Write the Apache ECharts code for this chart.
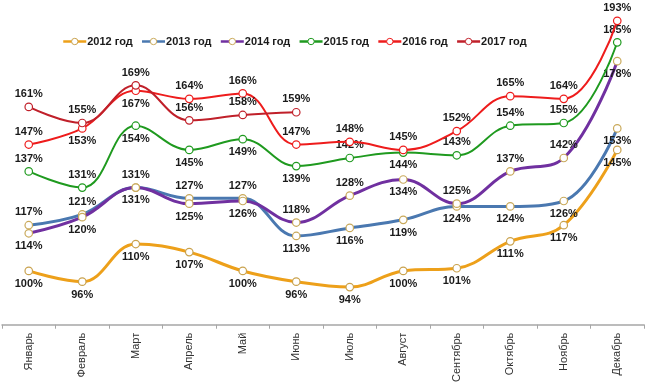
<!DOCTYPE html>
<html>
<head>
<meta charset="utf-8">
<script src="https://cdn.jsdelivr.net/npm/echarts@6/dist/echarts.min.js"></script>
<style>
html,body{margin:0;padding:0;background:#fff;}
#chart{width:656px;height:385px;}
</style>
</head>
<body>
<div id="chart"></div>
<script>
var months = ['Январь','Февраль','Март','Апрель','Май','Июнь','Июль','Август','Сентябрь','Октябрь','Ноябрь','Декабрь'];
var seriesNames = ['2012 год','2013 год','2014 год','2015 год','2016 год','2017 год'];
var v2012 = [100, 96, 110, 107, 100, 96, 94, 100, 101, 111, 117, 145];
var v2013 = [117, 121, 131, 127, 127, 113, 116, 119, 124, 124, 126, 153];
var v2014 = [114, 120, 131, 125, 126, 118, 128, 134, 125, 137, 142, 178];
var v2015 = [137, 131, 154, 145, 149, 139, 142, 144, 143, 154, 155, 185];
var v2016 = [147, 153, 167, 164, 166, 147, 148, 145, 152, 165, 164, 193];
var v2017 = [161, 155, 169, 156, 158, 159];

// label placement: indices whose label sits below the point
var below = [
  [0,1,2,3,4,5,6,7,8,9,10,11],
  [5,6,7,8,9,10,11],
  [0,1,2,3,4,7,11],
  [2,3,4,5,7],
  [1,2],
  []
];
var colors = ['#EDA01A','#4A78B0','#7030A0','#1F9A1F','#EE1C1C','#C0202A'];
var markerBorders = ['#C9A24E','#C9A95A','#C9A95A','#1F9A1F','#EE1C1C','#C0202A'];
var widths = [3,3,3,2,2,2];
var allValues = [v2012, v2013, v2014, v2015, v2016, v2017];

var series = allValues.map(function(vals, si){
  return {
    name: seriesNames[si],
    type: 'line',
    smooth: 0.4,
    symbol: 'circle',
    symbolSize: 7.5,
    z: 2 + si,
    lineStyle: {color: colors[si], width: widths[si]},
    itemStyle: {color: '#fff', borderColor: markerBorders[si], borderWidth: 1.2},
    label: {
      show: true,
      formatter: '{c}%',
      fontFamily: 'Arial, Liberation Sans, sans-serif',
      fontWeight: 'bold',
      fontSize: 11,
      color: '#1a1a1a',
      distance: 3
    },
    data: vals.map(function(v, i){
      return {value: v, label: {position: below[si].indexOf(i) >= 0 ? 'bottom' : 'top'}};
    })
  };
});

var chart = echarts.init(document.getElementById('chart'), null, {renderer:'canvas'});
chart.setOption({
  animation: false,
  color: colors,
  legend: {
    top: 31,
    left: 57,
    itemWidth: 23,
    itemHeight: 8,
    itemGap: 8,
    textStyle: {fontFamily: 'Arial, Liberation Sans, sans-serif', fontWeight: 'bold', fontSize: 11, color: '#1a1a1a', padding: [0,0,0,-4]},
    data: seriesNames.map(function(n, i){
      return {name: n, itemStyle: {color: '#fff', borderColor: markerBorders[i], borderWidth: 1}, lineStyle: {color: colors[i], width: 2.5}};
    })
  },
  grid: {left: 2, right: 12, top: 2, bottom: 58, containLabel: false},
  xAxis: {
    type: 'category',
    data: months,
    boundaryGap: true,
    axisLine: {lineStyle: {color: '#a6a6a6', width: 1.5}},
    axisTick: {show: true, interval: 0, length: 4, lineStyle: {color: '#a6a6a6'}},
    axisLabel: {interval: 0, rotate: 90, margin: 8, fontFamily: 'Arial, Liberation Sans, sans-serif', fontSize: 11, color: '#333'}
  },
  yAxis: {
    type: 'value',
    min: 80,
    max: 200,
    show: false,
    splitLine: {show: false}
  },
  series: series
});
</script>
</body>
</html>
